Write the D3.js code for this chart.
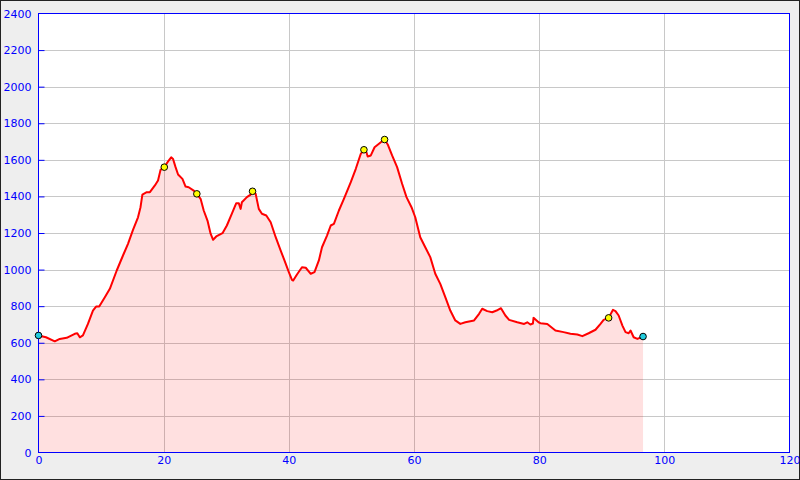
<!DOCTYPE html>
<html>
<head>
<meta charset="utf-8">
<script src="https://cdn.jsdelivr.net/npm/d3@7"></script>
<style>
  html, body { margin: 0; padding: 0; background: #eeeeee; }
  svg { display: block; }
</style>
</head>
<body>
<svg id="chart" width="800" height="480"></svg>
<script>
// ---- data ----
const distanceKm = [0,0.5,1.2,2.6,3.4,4.5,5.8,6.2,6.6,7.1,7.9,8.7,9.2,9.7,10.6,11.4,12.5,13.5,14.3,15.1,15.9,16.3,16.6,17.3,17.8,18.6,19.1,19.5,20.1,20.8,21.2,21.5,21.9,22.3,23.0,23.5,24.0,24.8,25.3,25.9,26.4,27.0,27.5,27.9,28.4,29.4,30.1,31.0,31.6,32.0,32.3,32.5,33.3,33.9,34.2,34.7,35.2,35.7,36.4,37.1,37.9,38.7,39.3,40.0,40.5,40.7,41.3,42.1,42.7,43.5,44.1,44.8,45.3,46.1,46.7,47.2,48.0,48.8,49.9,50.7,51.5,52.0,52.4,52.6,53.1,53.7,54.4,54.9,55.3,55.8,56.5,57.3,58.1,58.8,59.6,60.2,61.0,61.8,62.6,63.4,64.2,65.0,65.8,66.6,67.4,68.2,69.6,70.4,70.9,71.7,72.5,73.2,73.9,74.6,75.2,76.5,77.6,78.1,78.6,79.0,79.1,79.9,80.2,81.3,82.6,83.9,85.0,86.1,86.9,87.9,89.0,89.8,90.3,91.1,91.8,92.2,92.7,93.3,93.8,94.3,94.6,95.1,95.7,96.6];
const elevation = [640,636,630,608,621,627,649,652,630,640,703,776,798,798,849,895,995,1077,1141,1217,1286,1341,1410,1423,1423,1460,1487,1545,1560,1596,1614,1605,1560,1520,1496,1454,1450,1432,1414,1387,1323,1268,1196,1163,1181,1199,1241,1314,1363,1363,1332,1368,1396,1410,1428,1414,1332,1305,1296,1259,1177,1104,1050,986,944,940,973,1013,1010,977,986,1050,1122,1186,1241,1250,1323,1387,1478,1551,1633,1655,1642,1618,1624,1669,1688,1702,1711,1684,1624,1560,1469,1396,1341,1286,1177,1122,1068,977,922,849,776,722,703,712,722,758,786,773,767,776,789,749,725,712,703,712,700,705,736,712,707,703,667,658,649,645,636,652,671,703,725,736,780,773,749,694,658,652,667,630,621,634];

const waypointKm = [20.1,25.3,34.2,52.0,55.3,91.1];
const waypointElev = [1560,1414,1428,1655,1711,736];
const endpointKm = [0,96.6];
const endpointElev = [640,634];

const xTicks = [0,20,40,60,80,100,120];
const yTicks = [0,200,400,600,800,1000,1200,1400,1600,1800,2000,2200,2400];

// ---- layout ----
const svg = d3.select("#chart");
const W = 800, H = 480;
const m = {left: 38.5, right: 789.5, top: 13.5, bottom: 452.5};

svg.append("rect").attr("x",0.5).attr("y",0.5).attr("width",W-1).attr("height",H-1)
  .attr("fill","#eeeeee").attr("stroke","#222").attr("stroke-width",1);

const x = d3.scaleLinear().domain([0,120]).range([m.left, m.right]);
const y = d3.scaleLinear().domain([0,2400]).range([m.bottom, m.top]);

svg.append("rect").attr("x",m.left).attr("y",m.top)
  .attr("width",m.right-m.left).attr("height",m.bottom-m.top).attr("fill","#ffffff");

// grid
const grid = svg.append("g");
grid.selectAll("line.h").data(yTicks.slice(1,-1)).join("line")
  .attr("x1",m.left).attr("x2",m.right)
  .attr("y1",d=>Math.round(y(d))+0.5).attr("y2",d=>Math.round(y(d))+0.5)
  .attr("stroke","#c8c8c8").attr("stroke-width",1);
grid.selectAll("line.v").data(xTicks.slice(1,-1)).join("line")
  .attr("y1",m.top).attr("y2",m.bottom)
  .attr("x1",d=>Math.round(x(d))+0.5).attr("x2",d=>Math.round(x(d))+0.5)
  .attr("stroke","#c8c8c8").attr("stroke-width",1);

const pts = distanceKm.map((d,i)=>[d, elevation[i]]);

svg.append("path").datum(pts)
  .attr("d", d3.area().x(d=>x(d[0])).y0(y(0)).y1(d=>y(d[1])))
  .attr("fill","rgba(255,0,0,0.12)");

svg.append("path").datum(pts)
  .attr("d", d3.line().x(d=>x(d[0])).y(d=>y(d[1])))
  .attr("fill","none").attr("stroke","#ff0000").attr("stroke-width",2)
  .attr("stroke-linejoin","round");

// plot frame
svg.append("rect").attr("x",m.left).attr("y",m.top)
  .attr("width",m.right-m.left).attr("height",m.bottom-m.top)
  .attr("fill","none").attr("stroke","#0000ff").attr("stroke-width",1);

// axes
const yAxis = d3.axisLeft(y).tickValues(yTicks).tickSize(-6).tickPadding(7).tickFormat(d3.format("d"));
const gy = svg.append("g").attr("transform",`translate(${m.left},0)`).call(yAxis);
const xAxis = d3.axisBottom(x).tickValues(xTicks).tickSize(0).tickPadding(4).tickFormat(d3.format("d"));
const gx = svg.append("g").attr("transform",`translate(0,${m.bottom})`).call(xAxis);
[gy,gx].forEach(g=>{
  g.select(".domain").remove();
  g.selectAll(".tick line").attr("stroke","#0000ff");
  g.selectAll("text").attr("fill","#0000ff")
    .style("font-family","'DejaVu Sans', sans-serif").style("font-size","11px");
});
gy.selectAll(".tick line").filter(d=>d===0||d===2400).remove();

// markers
svg.selectAll("circle.wp").data(waypointKm).join("circle")
  .attr("cx",d=>x(d)).attr("cy",(d,i)=>y(waypointElev[i])).attr("r",3.3)
  .attr("fill","#ffff00").attr("stroke","#000").attr("stroke-width",1);
svg.selectAll("circle.ep").data(endpointKm).join("circle")
  .attr("cx",d=>x(d)).attr("cy",(d,i)=>y(endpointElev[i])).attr("r",3.3)
  .attr("fill","#22ccdd").attr("stroke","#000").attr("stroke-width",1);
</script>
</body>
</html>
